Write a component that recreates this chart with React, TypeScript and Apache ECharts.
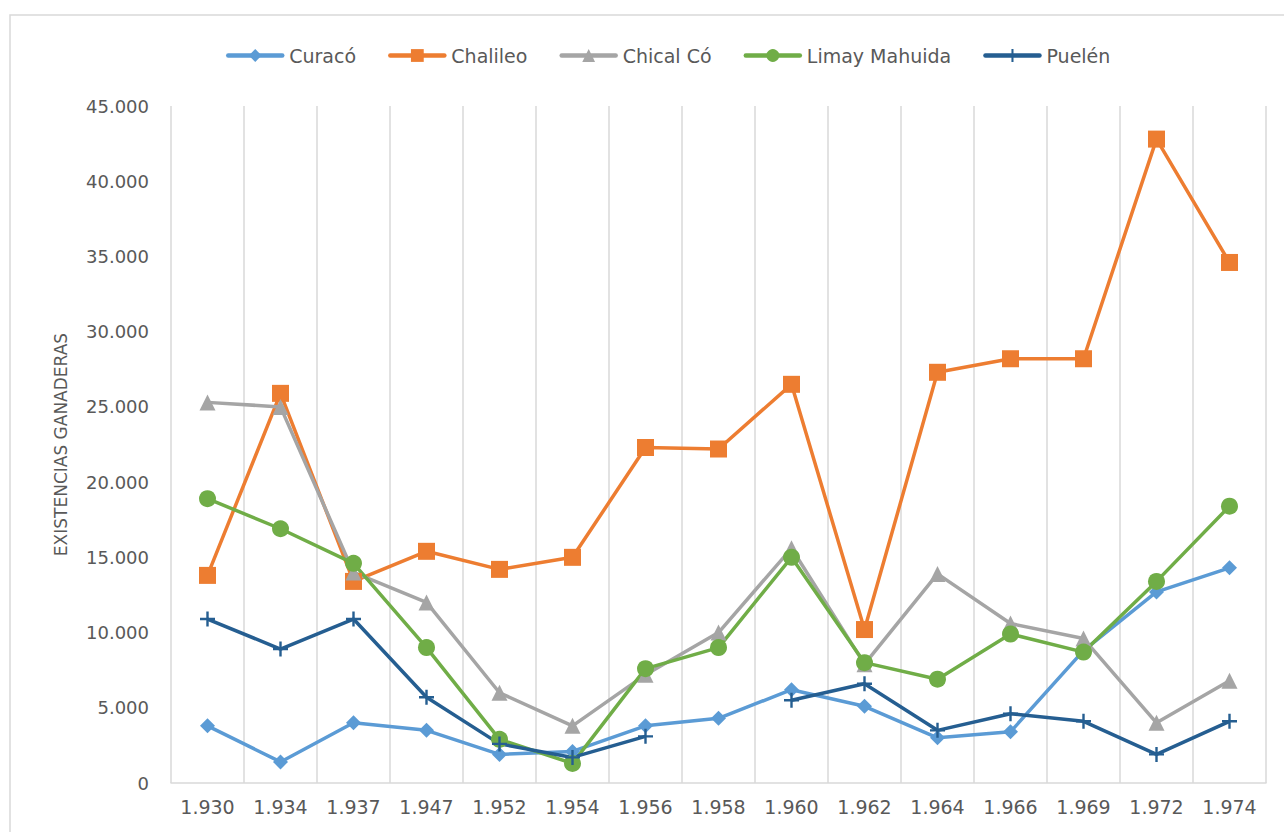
import React, { useEffect, useRef } from "react";
import * as echarts from "echarts";

const years = ["1.930", "1.934", "1.937", "1.947", "1.952", "1.954", "1.956", "1.958", "1.960", "1.962", "1.964", "1.966", "1.969", "1.972", "1.974"];
const curaco = [3800, 1400, 4000, 3500, 1900, 2100, 3800, 4300, 6200, 5100, 3000, 3400, 8800, 12700, 14300];
const chalileo = [13800, 25900, 13400, 15400, 14200, 15000, 22300, 22200, 26500, 10200, 27300, 28200, 28200, 42800, 34600];
const chicalCo = [25300, 25000, 14000, 12000, 6000, 3800, 7200, 10000, 15600, 7900, 13900, 10600, 9600, 4000, 6800];
const limayMahuida = [18900, 16900, 14600, 9000, 2900, 1300, 7600, 9000, 15000, 8000, 6900, 9900, 8700, 13400, 18400];
const puelen = [10900, 8900, 10900, 5700, 2600, 1700, 3100, null, 5500, 6600, 3500, 4600, 4100, 1900, 4100];
const yTicks = { min: 0, max: 45000, interval: 5000 };

const fmt = (v: number) => String(v).replace(/\B(?=(\d{3})+(?!\d))/g, ".");
const FONT = "DejaVu Sans";
const TXT = "#595959";
const GRID = "#D9D9D9";

export default function App() {
  const ref = useRef<HTMLDivElement>(null);
  useEffect(() => {
    if (!ref.current) return;
    const chart = echarts.init(ref.current, undefined, { renderer: "svg" });
    const mk = (name: string, data: (number | null)[], color: string, symbol: string, size: number) => ({
      name,
      type: "line",
      data,
      symbol,
      symbolSize: size,
      showSymbol: true,
      connectNulls: false,
      lineStyle: { color, width: 3.5 },
      itemStyle: { color, borderWidth: 0 },
      z: 3,
    });
    chart.setOption({
      animation: false,
      backgroundColor: "#ffffff",
      textStyle: { fontFamily: FONT },
      graphic: [
        {
          type: "rect",
          shape: { x: 10, y: 15, width: 1290, height: 840 },
          style: { fill: "none", stroke: GRID, lineWidth: 1.5 },
          silent: true,
          z: -1,
        },
      ],
      legend: {
        top: 41,
        left: 221,
        itemWidth: 54,
        itemHeight: 16,
        itemGap: 32,
        lineStyle: { width: 4.5, cap: "round" },
        textStyle: { color: TXT, fontSize: 19, fontFamily: FONT, padding: [0, 0, 0, 2] },
        data: ["Curacó", "Chalileo", "Chical Có", "Limay Mahuida", "Puelén"],
      },
      grid: { left: 171, right: 18, top: 106, bottom: 49, containLabel: false },
      xAxis: {
        type: "category",
        data: years,
        boundaryGap: true,
        axisLine: { show: true, lineStyle: { color: GRID, width: 1.5 } },
        axisTick: { show: false },
        splitLine: { show: true, interval: 0, lineStyle: { color: GRID, width: 1.5 } },
        axisLabel: { interval: 0, color: TXT, fontSize: 19, margin: 14, fontFamily: FONT },
      },
      yAxis: {
        type: "value",
        min: yTicks.min,
        max: yTicks.max,
        interval: yTicks.interval,
        axisLine: { show: false },
        axisTick: { show: false },
        splitLine: { show: false },
        axisLabel: { color: TXT, fontSize: 18, margin: 22, fontFamily: FONT, formatter: (v: number) => fmt(v) },
        name: "EXISTENCIAS GANADERAS",
        nameLocation: "middle",
        nameGap: 102,
        nameRotate: 90,
        nameTextStyle: { color: TXT, fontSize: 17, fontFamily: FONT },
      },
      series: [
        mk("Curacó", curaco, "#5B9BD5", "diamond", 15),
        mk("Chalileo", chalileo, "#ED7D31", "rect", 17),
        mk("Chical Có", chicalCo, "#A5A5A5", "triangle", 16),
        mk("Limay Mahuida", limayMahuida, "#70AD47", "circle", 17),
        mk("Puelén", puelen, "#255E91", "path://M4.2,0H5.8V4.2H10V5.8H5.8V10H4.2V5.8H0V4.2H4.2Z", 15),
      ],
    });
    return () => chart.dispose();
  }, []);
  return (
    <div
      ref={ref}
      style={{ position: "fixed", left: 0, top: 0, width: 1284, height: 832, background: "#fff" }}
    />
  );
}
